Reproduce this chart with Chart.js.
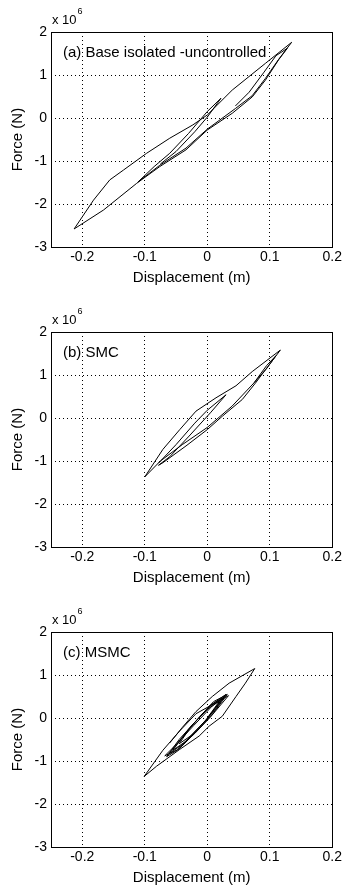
<!DOCTYPE html>
<html>
<head>
<meta charset="utf-8">
<script src="https://cdn.jsdelivr.net/npm/chart.js@4.4.1/dist/chart.umd.min.js"></script>
<style>
  html, body { margin: 0; padding: 0; background: #fff; overflow: hidden; }
  .panel { position: absolute; left: 0; width: 344px; height: 300px; }
</style>
</head>
<body>
<div class="panel" style="top:0"><canvas id="chartA"></canvas></div>
<div class="panel" style="top:300px"><canvas id="chartB"></canvas></div>
<div class="panel" style="top:600px"><canvas id="chartC"></canvas></div>
<script>
// ---- DATA (force is in units of 1e6 N) ----
const xTicks = [-0.2, -0.1, 0, 0.1, 0.2];
const yTicks = [-3, -2, -1, 0, 1, 2];

// (a) base isolated, uncontrolled
const dispA = [-0.075, -0.050, -0.020, 0.000, 0.022, 0.000, -0.030, -0.060, -0.085, -0.111,
               -0.076, -0.034, 0.000, 0.045, 0.072, 0.093, 0.114, 0.135,
               0.093, 0.040, 0.000, -0.023, -0.060, -0.097, -0.134, -0.156, -0.182, -0.213,
               -0.166, -0.113, -0.076, -0.034, 0.000, 0.040, 0.072, 0.093, 0.114, 0.128,
               0.110, 0.090, 0.067, 0.045];
const forceA = [-1.07, -0.78, -0.32, 0.02, 0.46, 0.15, -0.36, -0.82, -1.13, -1.49,
                -1.10, -0.70, -0.26, 0.22, 0.52, 0.92, 1.36, 1.76,
                1.27, 0.65, 0.07, -0.16, -0.47, -0.82, -1.21, -1.44, -1.91, -2.58,
                -2.14, -1.52, -1.13, -0.74, -0.28, 0.11, 0.49, 0.88, 1.35, 1.62,
                1.45, 1.05, 0.60, 0.28];

// (b) SMC
const dispB = [-0.078, -0.050, -0.020, 0.000, 0.030, 0.005, -0.029, -0.060, -0.078,
               -0.071, -0.034, 0.000, 0.024, 0.056, 0.077, 0.093, 0.117,
               0.072, 0.046, 0.014, -0.018, -0.044, -0.071, -0.100,
               -0.075, -0.040, 0.000, 0.040, 0.075, 0.095, 0.110, 0.095, 0.075];
const forceB = [-1.05, -0.62, -0.12, 0.18, 0.54, 0.12, -0.42, -0.90, -1.10,
                -1.04, -0.65, -0.27, 0.04, 0.43, 0.81, 1.12, 1.58,
                1.08, 0.75, 0.47, 0.16, -0.27, -0.73, -1.37,
                -1.00, -0.62, -0.22, 0.28, 0.82, 1.22, 1.45, 1.15, 0.82];

// (c) MSMC
const dispC = [0.000, 0.020, 0.000, -0.025, -0.045, -0.025, 0.000, 0.025, 0.005, -0.030, -0.055,
               -0.035, -0.005, 0.030, 0.008, -0.020, -0.045, -0.065, -0.045, -0.015, 0.010, 0.032,
               0.010, -0.015, -0.040, -0.060, -0.040, -0.012, 0.012, 0.028,
               0.008, -0.022, -0.050, -0.068, -0.048, -0.020, 0.005, 0.034,
               -0.018, -0.044, -0.071, -0.101, -0.081, -0.044, -0.013, 0.003, 0.024, 0.046, 0.061, 0.076,
               0.035, 0.008, -0.018, -0.040, -0.060];
const forceC = [0.00, 0.40, 0.20, -0.18, -0.60, -0.40, -0.02, 0.47, 0.30, -0.26, -0.75,
                -0.55, -0.10, 0.55, 0.32, -0.10, -0.50, -0.90, -0.72, -0.28, 0.12, 0.55,
                0.38, -0.02, -0.45, -0.82, -0.62, -0.20, 0.18, 0.50,
                0.28, -0.18, -0.62, -0.88, -0.74, -0.36, 0.02, 0.52,
                0.10, -0.30, -0.75, -1.36, -1.12, -0.73, -0.42, -0.19, 0.04, 0.50, 0.81, 1.15,
                0.81, 0.50, 0.15, -0.22, -0.58];

const labels = ['(a) Base isolated -uncontrolled', '(b) SMC', '(c) MSMC'];

// ---- STYLE ----
const FAMILY = "'Liberation Sans', Arial, Helvetica, sans-serif";
const TICK_FONT = { family: FAMILY, size: 14 };
const TITLE_FONT = { family: FAMILY, size: 15 };

function toPoints(xs, ys) {
    return xs.map((x, i) => ({ x: x, y: ys[i] }));
}

// box frame, panel label and the "x 10^6" exponent
const framePlugin = {
    id: 'frame',
    afterDraw(chart, args, opts) {
        const { ctx, chartArea: a } = chart;
        ctx.save();
        ctx.strokeStyle = '#000';
        ctx.lineWidth = 1;
        ctx.setLineDash([]);
        ctx.strokeRect(Math.round(a.left) + 0.5, Math.round(a.top) + 0.5,
                       Math.round(a.right - a.left), Math.round(a.bottom - a.top));
        ctx.fillStyle = '#000';
        ctx.textAlign = 'left';
        ctx.textBaseline = 'middle';
        ctx.font = '15px ' + FAMILY;
        ctx.fillText(opts.label, a.left + 12, a.top + 21);
        ctx.font = '13px ' + FAMILY;
        const base = 'x 10';
        ctx.fillText(base, a.left + 1, a.top - 12);
        const w = ctx.measureText(base).width;
        ctx.font = '9px ' + FAMILY;
        ctx.fillText('6', a.left + 2 + w, a.top - 20);
        ctx.restore();
    }
};

function makeChart(id, xs, ys, label) {
    return new Chart(document.getElementById(id), {
        type: 'scatter',
        data: {
            datasets: [{
                data: toPoints(xs, ys),
                showLine: true,
                borderColor: '#000',
                borderWidth: 1,
                pointRadius: 0,
                tension: 0
            }]
        },
        options: {
            responsive: true,
            maintainAspectRatio: false,
            animation: false,
            layout: { padding: { top: 32, right: 10, left: 0, bottom: 0 } },
            plugins: {
                legend: { display: false },
                tooltip: { enabled: false },
                frame: { label: label }
            },
            scales: {
                x: {
                    type: 'linear',
                    min: -0.25,
                    max: 0.2,
                    afterBuildTicks: s => { s.ticks = xTicks.map(v => ({ value: v })); },
                    afterFit: s => { s.height = 53; },
                    ticks: { color: '#000', font: TICK_FONT, padding: 2, maxRotation: 0, autoSkip: false,
                             callback: v => String(v) },
                    grid: { color: '#000', lineWidth: 1, drawTicks: false },
                    border: { display: false, dash: [1, 3] },
                    title: { display: true, text: 'Displacement (m)', color: '#000', font: TITLE_FONT,
                             padding: { top: 0, bottom: 13 } }
                },
                y: {
                    type: 'linear',
                    min: -3,
                    max: 2,
                    afterBuildTicks: s => { s.ticks = yTicks.map(v => ({ value: v })); },
                    afterFit: s => { s.width = 51; },
                    ticks: { color: '#000', font: TICK_FONT, padding: 4, autoSkip: false,
                             callback: v => String(v) },
                    grid: { color: '#000', lineWidth: 1, drawTicks: false },
                    border: { display: false, dash: [1, 3] },
                    title: { display: true, text: 'Force (N)', color: '#000', font: TITLE_FONT,
                             padding: { top: 9, bottom: 0 } }
                }
            }
        },
        plugins: [framePlugin]
    });
}

makeChart('chartA', dispA, forceA, labels[0]);
makeChart('chartB', dispB, forceB, labels[1]);
makeChart('chartC', dispC, forceC, labels[2]);
</script>
</body>
</html>
